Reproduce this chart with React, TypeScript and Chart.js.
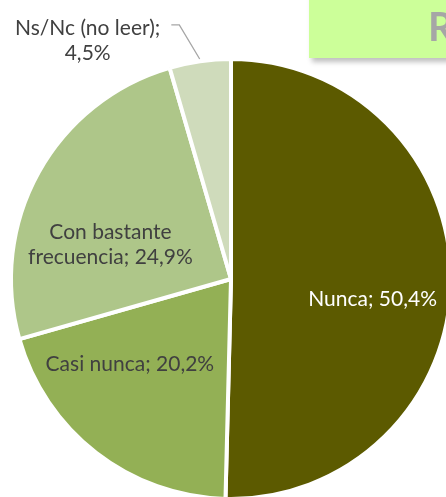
import React, { useEffect, useRef } from "react";
import { Chart, registerables } from "chart.js";

Chart.register(...registerables);

const categories = ["Nunca", "Casi nunca", "Con bastante frecuencia", "Ns/Nc (no leer)"];
const values = [50.4, 20.2, 24.9, 4.5];
const colors = ["#5C5A00", "#93B055", "#AEC689", "#CFDBBB"];
// label lines as displayed
const labelLines = [["Nunca; 50,4%"], ["Casi nunca; 20,2%"], ["Con bastante", "frecuencia; 24,9%"], ["Ns/Nc (no leer);", "4,5%"]];
const labelColors = ["#FFFFFF", "#404040", "#404040", "#404040"];
// polar placement: [angle from top, clockwise, deg; distance as fraction of radius]
const labelPolar: [number, number][] = [
  [98, 0.65],
  [230, 0.6],
  [286, 0.57],
  [-31, 1.265],
];

const FONT = "Lato, 'Noto Sans', sans-serif";

const labelPlugin = {
  id: "pieLabels",
  afterDatasetsDraw(chart: any) {
    const ctx = chart.ctx;
    const meta = chart.getDatasetMeta(0);
    ctx.save();
    ctx.font = `21px ${FONT}`;
    ctx.textAlign = "center";
    ctx.textBaseline = "middle";
    meta.data.forEach((arc: any, i: number) => {
      const { x, y, outerRadius, startAngle, endAngle } = arc.getProps(["x", "y", "outerRadius", "startAngle", "endAngle"], true);
      const [deg, frac] = labelPolar[i];
      const a = (deg - 90) * Math.PI / 180;
      const lx = x + Math.cos(a) * outerRadius * frac;
      const ly = y + Math.sin(a) * outerRadius * frac;
      const lines = labelLines[i];
      const lh = 25;
      lines.forEach((ln, k) => {
        ctx.fillStyle = labelColors[i];
        ctx.fillText(ln, lx, ly + (k - (lines.length - 1) / 2) * lh);
      });
      if (i === 3) {
        // leader line from label to slice edge
        const mid = (startAngle + endAngle) / 2;
        const ex = x + Math.cos(mid) * outerRadius * 1.01;
        const ey = y + Math.sin(mid) * outerRadius * 1.01;
        const w = ctx.measureText(lines[0]).width;
        const sx = lx + w / 2 + 11;
        const sy = ly - lh / 2 - 3;
        ctx.strokeStyle = "#A6A6A6";
        ctx.lineWidth = 1.3;
        ctx.beginPath();
        ctx.moveTo(sx, sy);
        ctx.lineTo(sx + 8, sy);
        ctx.lineTo(ex, ey);
        ctx.stroke();
      }
    });
    ctx.restore();
  },
};

export default function App() {
  const ref = useRef<HTMLCanvasElement | null>(null);
  useEffect(() => {
    if (!ref.current) return;
    const chart = new Chart(ref.current, {
      type: "pie",
      data: {
        labels: categories,
        datasets: [
          {
            data: values,
            backgroundColor: colors,
            borderColor: "#FFFFFF",
            borderWidth: 4,
          },
        ],
      },
      options: {
        responsive: false,
        animation: false,
        layout: { padding: { top: 57, bottom: 0, left: 9, right: 9 } },
        plugins: {
          legend: { display: false },
          tooltip: { enabled: false },
          title: { display: false },
        },
      },
      plugins: [labelPlugin],
    });
    return () => chart.destroy();
  }, []);
  return (
    <div style={{ position: "fixed", left: 0, top: 0, width: 446, height: 497, overflow: "hidden", background: "#FFFFFF" }}>
      <canvas ref={ref} width={462} height={501} style={{ position: "absolute", left: 0, top: 0, width: 462, height: 501 }} />
      <div
        style={{
          position: "absolute",
          left: 309,
          top: -10,
          width: 300,
          height: 68,
          background: "#CCFF99",
          boxShadow: "3px 4px 5px rgba(0,0,0,0.25)",
          fontFamily: FONT,
          fontWeight: "bold",
          fontSize: 40,
          color: "#A6A6A6",
          whiteSpace: "nowrap",
          boxSizing: "border-box",
          paddingLeft: 119,
          paddingTop: 12,
          lineHeight: "48px",
        }}
      >
        Resultados
      </div>
    </div>
  );
}
